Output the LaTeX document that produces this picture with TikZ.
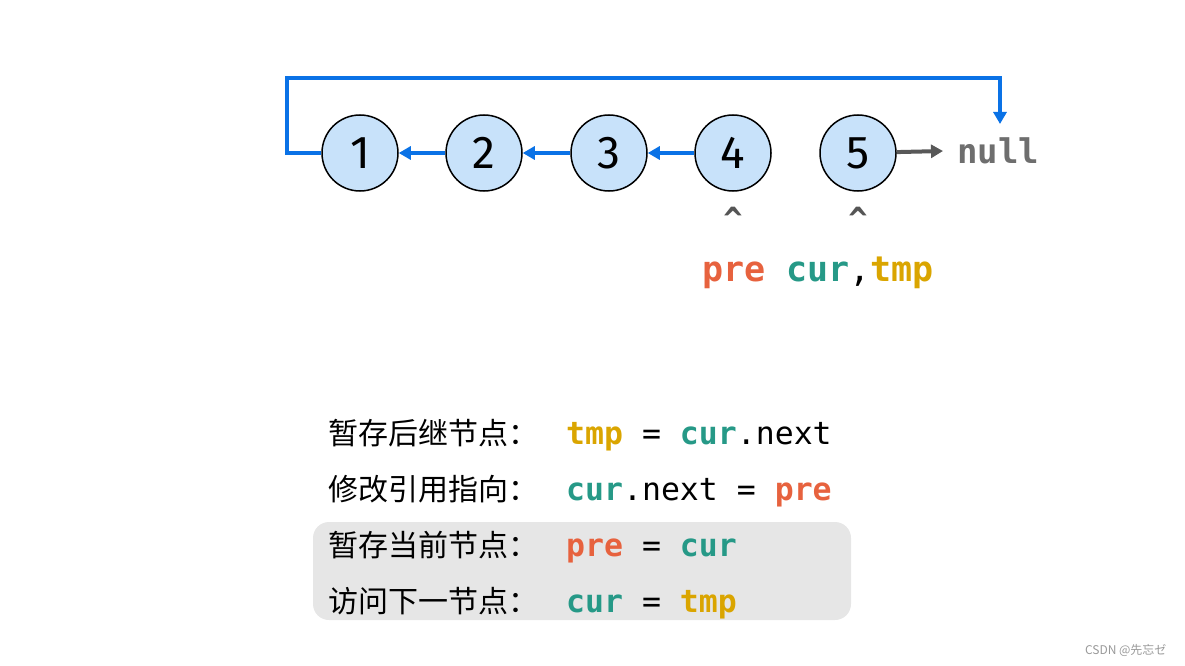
\documentclass[tikz,border=0pt]{standalone}
\usepackage{fontspec}
\setmainfont{Fira Sans}
\setmonofont{DejaVu Sans Mono}
\newfontfamily\cjk{Noto Sans CJK SC}
\usetikzlibrary{arrows.meta}
\definecolor{arrowblue}{RGB}{10,114,230}
\definecolor{nodefill}{RGB}{200,226,250}
\definecolor{precol}{RGB}{231,98,62}
\definecolor{curcol}{RGB}{38,153,135}
\definecolor{tmpcol}{RGB}{218,165,0}
\definecolor{nullgray}{RGB}{110,110,110}
\definecolor{caretgray}{RGB}{85,85,85}
\definecolor{boxgray}{RGB}{230,230,230}
\newcommand{\pre}{\textcolor{precol}{\textbf{pre}}}
\newcommand{\cur}{\textcolor{curcol}{\textbf{cur}}}
\newcommand{\tmp}{\textcolor{tmpcol}{\textbf{tmp}}}
\tikzset{
  listnode/.style={circle, draw=black, line width=1.5pt, fill=nodefill, minimum size=76pt, inner sep=0pt, font=\fontsize{46}{46}\selectfont},
  bluearrow/.style={draw=arrowblue, line width=4pt, -{Triangle[length=12pt,width=13pt]}},
  grayarrow/.style={draw=nullgray!80!black, line width=4pt, -{Triangle[length=12pt,width=13pt]}},
  caret/.style={text=caretgray, font=\ttfamily\bfseries\fontsize{32}{32}\selectfont},
  ptrlabel/.style={font=\ttfamily\fontsize{35}{35}\selectfont, anchor=base west, inner sep=0pt},
  cnlabel/.style={font=\cjk\fontsize{30}{30}\selectfont, anchor=base west, inner sep=0pt},
  codelabel/.style={font=\ttfamily\fontsize{31.5}{31.5}\selectfont, anchor=base west, inner sep=0pt},
}
\begin{document}
\begin{tikzpicture}[x=1pt,y=-1pt]
\useasboundingbox (0,0) rectangle (1185,666);
% highlight box
\fill[boxgray, rounded corners=16pt] (313,522) rectangle (851,620);
% list nodes
\node[listnode] (n1) at (360,153) {1};
\node[listnode] (n2) at (484,153) {2};
\node[listnode] (n3) at (609,153) {3};
\node[listnode] (n4) at (733,153) {4};
\node[listnode] (n5) at (858,153) {5};
\node[font=\ttfamily\bfseries\fontsize{34}{34}\selectfont, text=nullgray, anchor=west, inner sep=0pt] (null) at (957,151) {null};
\coordinate (nulltop) at (1000,124);
% connectors
\draw[bluearrow] (n2) -- (n1);
\draw[bluearrow] (n3) -- (n2);
\draw[bluearrow] (n4) -- (n3);
\draw[bluearrow, rounded corners=0pt] (n1.west) -- (287,153) |- (1000,78) -- (nulltop);
\draw[grayarrow] (n5) -- ([xshift=-14pt]null.west);
% pointers
\node[caret] (c4) at (733,219) {\^{}};
\node[caret] (c5) at (858,219) {\^{}};
\node[ptrlabel] (ptr) at (702,281) {\pre{} \cur,\tmp};
% steps
\node[cnlabel] (l1) at (328,444) {暂存后继节点：};
\node[codelabel] (s1) at (566,444) {\tmp{} = \cur.next};
\node[cnlabel] (l2) at (328,500) {修改引用指向：};
\node[codelabel] (s2) at (566,500) {\cur.next = \pre};
\node[cnlabel] (l3) at (328,556) {暂存当前节点：};
\node[codelabel] (s3) at (566,556) {\pre{} = \cur};
\node[cnlabel] (l4) at (328,612) {访问下一节点：};
\node[codelabel] (s4) at (566,612) {\cur{} = \tmp};
% watermark
\node[font=\cjk\fontsize{12}{12}\selectfont, text=gray!80, anchor=east] (wm) at (1170,650) {CSDN @先忘ゼ};
\end{tikzpicture}
\end{document}
